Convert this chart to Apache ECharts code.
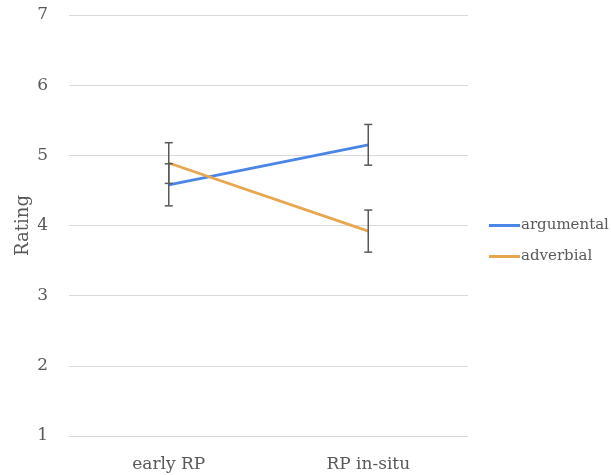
<!DOCTYPE html>
<html><head><meta charset="utf-8">
<script src="https://cdn.jsdelivr.net/npm/echarts@6/dist/echarts.min.js"></script>
<style>html,body{margin:0;padding:0;background:#fff}#c{width:611px;height:475px}</style>
</head><body><div id="c"></div>
<script>
const categories = ['early RP', 'RP in-situ'];
const argumental = [4.58, 5.15];
const argumentalErr = [0.30, 0.29];
const adverbial = [4.89, 3.92];
const adverbialErr = [0.29, 0.30];
const yTicks = [1, 7, 1];

const FONT = 'DejaVu Serif';
const blue = '#4A86E8', orange = '#E8A74E';

function errData(vals, errs) {
  return vals.map((v, i) => [i, v - errs[i], v + errs[i]]);
}
function errRender(params, api) {
  const x = api.value(0);
  const lo = api.coord([x, api.value(1)]);
  const hi = api.coord([x, api.value(2)]);
  const w = 4;
  const style = { stroke: '#595959', lineWidth: 1.5 };
  return { type: 'group', children: [
    { type: 'line', shape: { x1: lo[0], y1: lo[1], x2: hi[0], y2: hi[1] }, style },
    { type: 'line', shape: { x1: lo[0] - w, y1: lo[1], x2: lo[0] + w, y2: lo[1] }, style },
    { type: 'line', shape: { x1: hi[0] - w, y1: hi[1], x2: hi[0] + w, y2: hi[1] }, style }
  ]};
}

const chart = echarts.init(document.getElementById('c'));
chart.setOption({
  animation: false,
  grid: { left: 69, right: 143, top: 15, bottom: 39 },
  legend: {
    orient: 'vertical', left: 484, top: 213, itemGap: 16,
    itemWidth: 31, itemHeight: 3, icon: 'rect',
    textStyle: { fontFamily: FONT, fontSize: 15, color: '#595959', padding: [0, 0, 0, -4] },
    data: ['argumental', 'adverbial']
  },
  xAxis: {
    type: 'category', data: categories, boundaryGap: true,
    axisLine: { show: false }, axisTick: { show: false },
    axisLabel: { fontFamily: FONT, fontSize: 17, color: '#595959', margin: 20 }
  },
  yAxis: {
    type: 'value', min: yTicks[0], max: yTicks[1], interval: yTicks[2],
    name: 'Rating', nameLocation: 'middle', nameGap: 37, nameRotate: 90,
    nameMoveOverlap: false,
    nameTextStyle: { fontFamily: FONT, fontSize: 18, color: '#595959' },
    axisLine: { show: false }, axisTick: { show: false },
    axisLabel: { fontFamily: FONT, fontSize: 17, color: '#595959', margin: 21 },
    splitLine: { lineStyle: { color: '#D9D9D9', width: 1 } }
  },
  series: [
    { name: 'argumental', type: 'line', data: argumental, symbol: 'none',
      lineStyle: { color: blue, width: 2.75 }, itemStyle: { color: blue }, z: 3 },
    { name: 'adverbial', type: 'line', data: adverbial, symbol: 'none',
      lineStyle: { color: orange, width: 2.75 }, itemStyle: { color: orange }, z: 3 },
    { type: 'custom', data: errData(argumental, argumentalErr), renderItem: errRender,
      encode: { x: 0, y: [1, 2] }, z: 4, silent: true },
    { type: 'custom', data: errData(adverbial, adverbialErr), renderItem: errRender,
      encode: { x: 0, y: [1, 2] }, z: 4, silent: true }
  ]
});
</script></body></html>
